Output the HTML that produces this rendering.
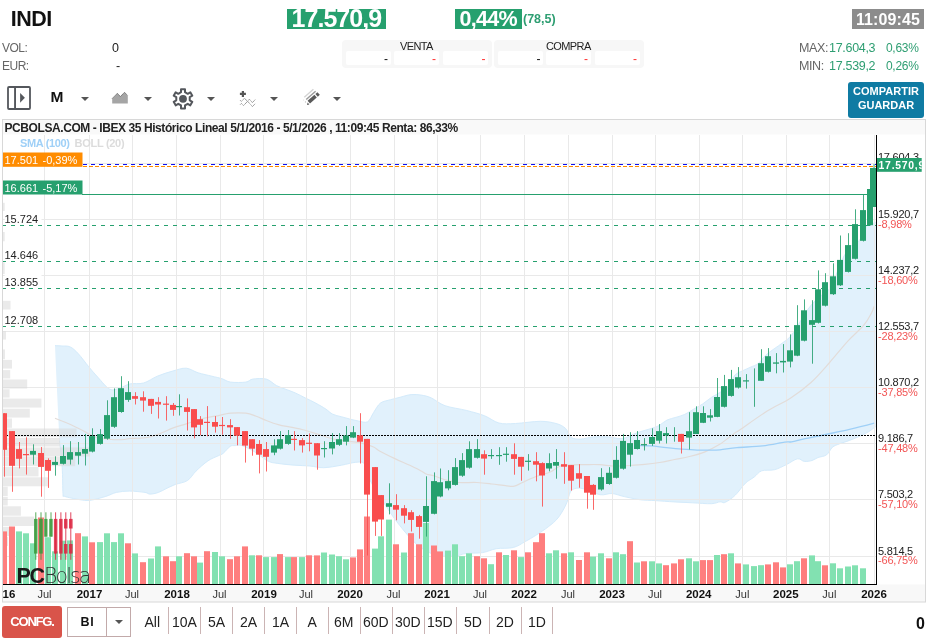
<!DOCTYPE html>
<html><head><meta charset="utf-8">
<style>
*{margin:0;padding:0;box-sizing:border-box}
html,body{width:939px;height:643px;overflow:hidden;background:#fff;font-family:"Liberation Sans",Arial,sans-serif;color:#222}
.a{position:absolute;white-space:nowrap}
svg text{font-family:"Liberation Sans",Arial,sans-serif}
.lbl{font-size:12px;color:#666;letter-spacing:-0.5px}
.gv{color:#2e9e72}
.box{position:absolute;background:#f7f7f7;border-radius:4px}
.cell{position:absolute;background:#fff;border-radius:2px}
.per{position:absolute;top:617px;font-size:14px;color:#222;line-height:11px}
.sep{position:absolute;top:607px;width:1px;height:27px;background:#cbb4b4}
.car{position:absolute;width:0;height:0;border-left:4px solid transparent;border-right:4px solid transparent;border-top:4px solid #555}
</style></head><body>
<div class="a" style="left:10.7px;top:6.5px;font-size:21.5px;font-weight:bold;color:#111;letter-spacing:-0.5px">INDI</div>
<div class="a" style="left:287px;top:9px;width:99px;height:20px;background:#26a06e"></div>
<div class="a" style="left:291.5px;top:4px;font-size:25px;font-weight:bold;color:#fff;letter-spacing:-0.95px">17.570,9</div>
<div class="a" style="left:455px;top:9px;width:67px;height:20px;background:#26a06e"></div>
<div class="a" style="left:459.5px;top:7px;font-size:21.5px;font-weight:bold;color:#fff;letter-spacing:-0.7px">0,44%</div>
<div class="a gv" style="left:523px;top:12px;font-size:12.5px;font-weight:bold">(78,5)</div>
<div class="a" style="left:852px;top:9px;width:72px;height:20px;background:#8c8c8c"></div>
<div class="a" style="left:856px;top:11px;font-size:16px;font-weight:bold;color:#fff;letter-spacing:0.1px">11:09:45</div>

<div class="a lbl" style="left:2px;top:41px">VOL:</div>
<div class="a" style="left:112px;top:41px;font-size:12.5px;color:#222">0</div>
<div class="a lbl" style="left:2px;top:59px">EUR:</div>
<div class="a" style="left:116px;top:59px;font-size:12.5px;color:#222">-</div>

<div class="box" style="left:342px;top:40px;width:150px;height:27.5px"></div>
<div class="a" style="left:400px;top:40px;font-size:11px;color:#222;letter-spacing:-0.6px">VENTA</div>
<div class="cell" style="left:346px;top:51px;width:45px;height:14px"></div>
<div class="cell" style="left:394px;top:51px;width:45px;height:14px"></div>
<div class="cell" style="left:443px;top:51px;width:45px;height:14px"></div>
<div class="a" style="left:384px;top:52px;font-size:12px;color:#111">-</div>
<div class="a" style="left:432px;top:52px;font-size:12px;color:#f33">-</div>
<div class="a" style="left:481.5px;top:52px;font-size:12px;color:#f33">-</div>
<div class="box" style="left:494px;top:40px;width:150px;height:27.5px"></div>
<div class="a" style="left:546px;top:40px;font-size:11px;color:#222;letter-spacing:-0.6px">COMPRA</div>
<div class="cell" style="left:498px;top:51px;width:45px;height:14px"></div>
<div class="cell" style="left:546px;top:51px;width:45px;height:14px"></div>
<div class="cell" style="left:595px;top:51px;width:45px;height:14px"></div>
<div class="a" style="left:536.5px;top:52px;font-size:12px;color:#111">-</div>
<div class="a" style="left:584px;top:52px;font-size:12px;color:#f33">-</div>
<div class="a" style="left:633px;top:52px;font-size:12px;color:#f33">-</div>

<div class="a lbl" style="left:799px;top:41px;font-size:12.5px;letter-spacing:-0.4px">MAX:</div><div class="a gv" style="left:829px;top:41px;font-size:12.5px;letter-spacing:-0.3px">17.604,3</div>
<div class="a gv" style="left:886px;top:41px;font-size:12px;letter-spacing:-0.3px">0,63%</div>
<div class="a lbl" style="left:799px;top:59px;font-size:12.5px;letter-spacing:-0.4px">MIN:</div><div class="a gv" style="left:829px;top:59px;font-size:12.5px;letter-spacing:-0.3px">17.539,2</div>
<div class="a gv" style="left:886px;top:59px;font-size:12px;letter-spacing:-0.3px">0,26%</div>

<div class="a" style="left:848px;top:82px;width:76px;height:35.5px;background:#0f7ba3;border-radius:3px"></div>
<div class="a" style="left:848px;top:85px;width:76px;text-align:center;font-size:11px;font-weight:bold;color:#fff;line-height:13.8px">COMPARTIR<br>GUARDAR</div>

<!-- toolbar -->
<svg class="a" style="left:0;top:80px" width="360" height="36" viewBox="0 80 360 36">
 <rect x="8" y="87" width="22" height="22" rx="1" fill="none" stroke="#54575c" stroke-width="1.8"/>
 <line x1="15.05" y1="87" x2="15.05" y2="109" stroke="#54575c" stroke-width="1.9"/>
 <path d="M20.1,92.9 L24.9,97.8 L20.1,102.7 Z" fill="#54575c"/>
 <path d="M112.2,103.6 L112.2,98.5 L117.4,93.3 L120.4,96.6 L124.5,92.3 L127.8,95.7 L127.8,103.6 Z" fill="#a5a5a5"/>
 <path d="M112.2,98.5 L117.4,93.3 L120.4,96.6 L124.5,92.3 L127.8,95.7" fill="none" stroke="#555" stroke-width="0.9" stroke-dasharray="1,0.6"/>
 <path d="M181.00,92.20 L181.00,89.20 L185.00,89.20 L185.00,92.20 L187.72,93.77 L190.31,92.27 L192.31,95.73 L189.72,97.23 L189.72,100.37 L192.31,101.87 L190.31,105.33 L187.72,103.83 L185.00,105.40 L185.00,108.40 L181.00,108.40 L181.00,105.40 L178.28,103.83 L175.69,105.33 L173.69,101.87 L176.28,100.37 L176.28,97.23 L173.69,95.73 L175.69,92.27 L178.28,93.77 Z" fill="none" stroke="#54575c" stroke-width="2" stroke-linejoin="round"/>
 <circle cx="183" cy="98.8" r="3.9" fill="#54575c"/>
 <path d="M239.9,93.9 h6 M242.9,90.9 v6" stroke="#555" stroke-width="2.2"/>
 <path d="M240.3,100.4 L241.4,101.5 L244.4,98.3 L247.6,101.3 L249.4,99.2 L252.4,102.6 L255.6,99.2" fill="none" stroke="#666" stroke-width="0.9" stroke-dasharray="1,0.7"/>
 <path d="M240.3,104.5 L241.4,103.4 L243.5,105.6 L247.6,101.3 L252.4,106.5 L255.6,103.4" fill="none" stroke="#666" stroke-width="0.9" stroke-dasharray="1,0.7"/>
 <line x1="304.3" y1="97.3" x2="313.4" y2="89.2" stroke="#d4d4d4" stroke-width="1.4"/>
 <line x1="306.2" y1="99.5" x2="315.6" y2="91.2" stroke="#9a9a9a" stroke-width="1.4"/>
 <line x1="308.8" y1="102.2" x2="315.6" y2="96.2" stroke="#5a5a5a" stroke-width="3.6"/>
 <line x1="316.6" y1="95.3" x2="318.6" y2="93.5" stroke="#5a5a5a" stroke-width="3.6"/>
 <path d="M307,105 L307.6,102.6 L309.4,104.4 Z" fill="#5a5a5a"/>
 <circle cx="303.6" cy="100" r="0.6" fill="#ddd"/>
 <circle cx="305.5" cy="101.9" r="0.6" fill="#bbb"/>
</svg>
<div class="a" style="left:50.5px;top:87.5px;font-size:15.5px;font-weight:bold;color:#111">M</div>
<div class="car" style="left:80.5px;top:97px"></div>
<div class="car" style="left:143.5px;top:97px"></div>
<div class="car" style="left:207px;top:97px"></div>
<div class="car" style="left:270px;top:97px"></div>
<div class="car" style="left:333px;top:97px"></div>

<svg class="a" style="left:0;top:0" width="939" height="643" viewBox="0 0 939 643">
<defs><clipPath id="clipc"><rect x="3" y="135" width="873.5" height="449"/></clipPath></defs>
<rect x="2.5" y="119.5" width="923" height="15" fill="#f9f9f9"/>
<rect x="2.5" y="584.5" width="923" height="17.5" fill="#f8f8f8"/>
<path d="M55.0,345.6 C56.2,345.7 59.5,345.8 62.0,346.0 C64.5,346.2 67.4,345.6 70.1,346.9 C72.8,348.1 75.0,350.2 78.1,353.5 C81.2,356.8 85.4,362.7 88.7,366.7 C92.0,370.7 94.4,373.6 97.9,377.3 C101.4,381.1 106.1,387.4 109.8,389.2 C113.5,391.0 116.6,388.9 120.0,388.0 C123.4,387.1 126.1,384.7 130.0,383.9 C133.9,383.1 139.0,384.3 143.6,383.0 C148.2,381.7 152.5,378.2 157.3,376.2 C162.1,374.2 167.8,372.4 172.6,371.1 C177.4,369.8 181.9,367.9 186.2,368.2 C190.4,368.5 193.8,371.5 198.1,372.8 C202.4,374.1 207.8,375.2 211.8,376.2 C215.8,377.2 218.9,377.7 222.0,378.7 C225.1,379.7 226.5,381.5 230.5,382.1 C234.5,382.7 242.1,382.6 245.8,382.1 C249.5,381.6 249.3,379.6 252.7,379.1 C256.1,378.6 262.3,378.0 266.3,379.1 C270.3,380.2 273.4,384.0 276.5,385.6 C279.6,387.2 281.9,387.8 285.0,389.0 C288.1,390.2 291.8,391.4 295.2,392.9 C298.6,394.4 302.0,396.3 305.4,398.0 C308.8,399.7 312.3,401.2 315.7,403.1 C319.1,405.0 323.1,407.2 325.9,409.1 C328.7,411.0 330.1,412.9 332.7,414.2 C335.2,415.5 338.4,415.9 341.2,416.7 C344.0,417.5 346.8,418.3 349.7,419.0 C352.6,419.7 355.3,420.5 358.3,421.0 C361.3,421.5 365.1,423.2 367.6,421.8 C370.2,420.4 371.5,415.6 373.6,412.5 C375.7,409.4 377.6,405.2 380.4,403.1 C383.2,401.0 387.2,400.7 390.6,399.7 C394.0,398.7 397.4,398.0 400.8,397.1 C404.2,396.2 407.7,394.9 411.1,394.6 C414.5,394.3 417.9,394.5 421.3,395.1 C424.7,395.7 427.6,396.2 431.5,398.0 C435.4,399.8 439.1,403.6 445.0,405.7 C450.9,407.8 460.1,408.8 466.7,410.5 C473.3,412.2 479.2,413.7 484.6,415.8 C490.0,417.9 493.8,421.7 498.9,423.0 C504.0,424.3 508.6,423.8 515.5,423.5 C522.4,423.2 533.6,421.3 540.4,421.3 C547.1,421.3 551.9,422.4 556.0,423.5 C560.1,424.6 562.7,425.9 565.3,428.2 C567.9,430.5 568.9,435.7 571.5,437.5 C574.1,439.3 577.2,439.2 580.8,439.1 C584.4,439.0 588.6,437.3 593.3,436.9 C598.0,436.5 603.9,436.6 608.8,436.9 C613.6,437.2 617.6,439.3 622.4,438.6 C627.1,437.9 632.3,434.4 637.3,432.7 C642.3,431.0 648.5,429.4 652.2,428.2 C655.9,426.9 657.1,426.6 659.6,425.2 C662.1,423.8 664.4,421.3 667.1,420.0 C669.8,418.7 672.9,418.3 675.8,417.4 C678.7,416.5 681.7,415.8 684.7,414.4 C687.7,413.0 690.7,410.9 693.7,409.2 C696.7,407.5 699.6,406.0 702.6,404.0 C705.6,402.0 708.6,399.3 711.6,397.3 C714.6,395.3 717.5,394.1 720.5,392.1 C723.5,390.1 727.1,388.2 729.5,385.3 C731.9,382.4 732.8,377.4 735.0,375.0 C737.2,372.6 740.2,372.0 742.8,370.7 C745.4,369.4 747.9,368.4 750.5,367.2 C753.1,366.0 755.7,365.4 758.3,363.4 C760.9,361.4 763.4,357.4 766.0,355.0 C768.6,352.6 771.0,351.1 773.9,349.0 C776.8,346.9 780.4,344.6 783.2,342.4 C786.1,340.2 788.2,339.2 791.0,335.8 C793.8,332.4 797.2,326.4 800.0,322.0 C802.8,317.6 804.6,313.6 807.6,309.6 C810.6,305.6 814.4,301.4 818.0,298.0 C821.6,294.6 826.5,292.8 829.5,289.0 C832.5,285.2 833.7,280.3 836.0,275.0 C838.3,269.7 840.8,262.0 843.5,257.0 C846.2,252.0 849.3,247.8 852.0,245.0 C854.7,242.2 857.4,243.2 859.8,240.0 C862.2,236.8 864.2,228.8 866.6,226.0 C869.0,223.2 872.7,223.7 874.3,223.0 C875.9,222.3 875.7,222.2 876.0,222.0 L876.0,426.5 C875.7,426.7 875.5,426.8 874.2,427.7 C872.9,428.6 870.6,430.5 868.2,431.9 C865.8,433.3 862.8,434.8 859.7,436.2 C856.6,437.6 852.9,439.1 849.5,440.4 C846.1,441.7 842.1,442.8 839.3,443.9 C836.4,445.0 834.5,445.5 832.4,447.3 C830.3,449.1 828.9,453.2 826.5,454.9 C824.1,456.6 820.4,456.6 818.0,457.5 C815.6,458.4 814.3,459.9 812.0,460.5 C809.7,461.1 806.7,461.7 804.3,461.4 C801.9,461.1 800.5,458.3 797.5,458.8 C794.5,459.3 790.2,462.8 786.4,464.6 C782.6,466.4 778.6,468.7 774.5,469.7 C770.4,470.7 765.1,469.6 761.7,470.8 C758.3,472.0 756.8,475.1 754.1,477.1 C751.4,479.1 748.5,480.3 745.6,483.0 C742.8,485.7 739.4,490.7 737.0,493.3 C734.6,495.9 733.2,497.1 731.1,498.7 C729.0,500.2 726.1,502.1 724.3,502.6 C722.4,503.1 722.1,501.6 720.0,501.8 C717.9,502.0 715.9,503.5 711.4,503.7 C706.9,503.9 698.9,503.1 692.7,502.8 C686.5,502.5 680.3,502.3 674.1,501.9 C667.9,501.5 661.1,501.0 655.4,500.6 C649.7,500.2 645.1,500.4 639.9,499.7 C634.7,499.0 629.0,497.6 624.3,496.6 C619.6,495.6 615.9,493.8 611.9,493.5 C607.9,493.2 604.8,495.5 600.0,494.7 C595.2,493.9 587.3,489.7 583.1,488.7 C578.9,487.7 576.7,488.1 574.6,488.7 C572.5,489.3 571.6,489.9 570.3,492.2 C569.0,494.5 568.2,499.3 566.9,502.4 C565.6,505.5 564.5,507.9 562.7,510.9 C560.9,513.9 558.8,517.3 555.9,520.3 C553.0,523.3 549.0,526.2 545.6,528.8 C542.2,531.3 538.8,533.5 535.4,535.6 C532.0,537.7 528.9,539.6 525.2,541.6 C521.5,543.6 518.1,546.3 513.3,547.5 C508.5,548.7 501.3,547.9 496.2,548.7 C491.1,549.6 487.7,551.8 482.6,552.6 C477.5,553.4 470.0,552.9 465.6,553.5 C461.2,554.1 460.0,555.6 456.0,556.0 C452.0,556.4 446.5,556.7 441.7,556.0 C436.9,555.3 432.2,554.2 427.4,551.7 C422.6,549.2 418.5,546.4 413.1,541.0 C407.7,535.6 400.6,526.8 395.2,519.6 C389.8,512.5 385.1,504.7 380.9,498.1 C376.7,491.5 372.8,485.9 370.1,480.2 C367.4,474.5 367.2,467.1 364.8,464.1 C362.4,461.1 359.7,462.1 355.8,462.3 C351.9,462.5 346.9,464.3 341.5,465.2 C336.1,466.1 328.9,467.6 323.6,467.7 C318.4,467.8 314.8,466.4 310.0,466.0 C305.2,465.6 300.2,465.6 294.8,465.2 C289.4,464.8 282.3,464.1 277.8,463.4 C273.3,462.7 271.4,462.8 267.6,460.9 C263.8,459.0 259.3,454.6 255.0,452.0 C250.7,449.4 245.3,446.7 242.0,445.6 C238.7,444.5 237.2,445.5 235.2,445.6 C233.2,445.7 232.1,445.1 230.1,446.4 C228.1,447.7 225.3,451.6 223.3,453.2 C221.3,454.8 220.8,454.5 218.2,455.8 C215.6,457.1 211.6,458.3 207.9,460.9 C204.2,463.4 199.4,467.8 196.0,471.1 C192.6,474.4 190.9,478.3 187.5,480.5 C184.1,482.7 179.0,483.1 175.6,484.4 C172.2,485.7 169.8,486.9 167.0,488.2 C164.2,489.5 161.3,491.4 158.5,492.4 C155.7,493.4 152.2,494.1 150.0,494.1 C147.8,494.1 148.4,492.9 145.0,492.4 C141.6,491.9 134.5,491.1 129.7,491.1 C124.9,491.1 120.4,491.5 116.4,492.4 C112.4,493.3 110.2,495.1 105.8,496.4 C101.4,497.7 94.4,499.8 90.0,500.3 C85.6,500.8 83.6,500.2 79.4,499.6 C75.2,499.0 67.5,497.4 64.8,496.4 C62.1,495.4 63.4,498.5 63.0,493.7 C62.6,488.9 62.8,476.1 62.2,467.3 C61.6,458.5 60.5,454.0 59.6,440.8 C58.7,427.6 57.7,403.8 56.9,387.9 C56.1,372.0 55.3,352.7 55.0,345.6 Z" fill="#e1f1fc"/>
<path d="M55.0,345.6 C56.2,345.7 59.5,345.8 62.0,346.0 C64.5,346.2 67.4,345.6 70.1,346.9 C72.8,348.1 75.0,350.2 78.1,353.5 C81.2,356.8 85.4,362.7 88.7,366.7 C92.0,370.7 94.4,373.6 97.9,377.3 C101.4,381.1 106.1,387.4 109.8,389.2 C113.5,391.0 116.6,388.9 120.0,388.0 C123.4,387.1 126.1,384.7 130.0,383.9 C133.9,383.1 139.0,384.3 143.6,383.0 C148.2,381.7 152.5,378.2 157.3,376.2 C162.1,374.2 167.8,372.4 172.6,371.1 C177.4,369.8 181.9,367.9 186.2,368.2 C190.4,368.5 193.8,371.5 198.1,372.8 C202.4,374.1 207.8,375.2 211.8,376.2 C215.8,377.2 218.9,377.7 222.0,378.7 C225.1,379.7 226.5,381.5 230.5,382.1 C234.5,382.7 242.1,382.6 245.8,382.1 C249.5,381.6 249.3,379.6 252.7,379.1 C256.1,378.6 262.3,378.0 266.3,379.1 C270.3,380.2 273.4,384.0 276.5,385.6 C279.6,387.2 281.9,387.8 285.0,389.0 C288.1,390.2 291.8,391.4 295.2,392.9 C298.6,394.4 302.0,396.3 305.4,398.0 C308.8,399.7 312.3,401.2 315.7,403.1 C319.1,405.0 323.1,407.2 325.9,409.1 C328.7,411.0 330.1,412.9 332.7,414.2 C335.2,415.5 338.4,415.9 341.2,416.7 C344.0,417.5 346.8,418.3 349.7,419.0 C352.6,419.7 355.3,420.5 358.3,421.0 C361.3,421.5 365.1,423.2 367.6,421.8 C370.2,420.4 371.5,415.6 373.6,412.5 C375.7,409.4 377.6,405.2 380.4,403.1 C383.2,401.0 387.2,400.7 390.6,399.7 C394.0,398.7 397.4,398.0 400.8,397.1 C404.2,396.2 407.7,394.9 411.1,394.6 C414.5,394.3 417.9,394.5 421.3,395.1 C424.7,395.7 427.6,396.2 431.5,398.0 C435.4,399.8 439.1,403.6 445.0,405.7 C450.9,407.8 460.1,408.8 466.7,410.5 C473.3,412.2 479.2,413.7 484.6,415.8 C490.0,417.9 493.8,421.7 498.9,423.0 C504.0,424.3 508.6,423.8 515.5,423.5 C522.4,423.2 533.6,421.3 540.4,421.3 C547.1,421.3 551.9,422.4 556.0,423.5 C560.1,424.6 562.7,425.9 565.3,428.2 C567.9,430.5 568.9,435.7 571.5,437.5 C574.1,439.3 577.2,439.2 580.8,439.1 C584.4,439.0 588.6,437.3 593.3,436.9 C598.0,436.5 603.9,436.6 608.8,436.9 C613.6,437.2 617.6,439.3 622.4,438.6 C627.1,437.9 632.3,434.4 637.3,432.7 C642.3,431.0 648.5,429.4 652.2,428.2 C655.9,426.9 657.1,426.6 659.6,425.2 C662.1,423.8 664.4,421.3 667.1,420.0 C669.8,418.7 672.9,418.3 675.8,417.4 C678.7,416.5 681.7,415.8 684.7,414.4 C687.7,413.0 690.7,410.9 693.7,409.2 C696.7,407.5 699.6,406.0 702.6,404.0 C705.6,402.0 708.6,399.3 711.6,397.3 C714.6,395.3 717.5,394.1 720.5,392.1 C723.5,390.1 727.1,388.2 729.5,385.3 C731.9,382.4 732.8,377.4 735.0,375.0 C737.2,372.6 740.2,372.0 742.8,370.7 C745.4,369.4 747.9,368.4 750.5,367.2 C753.1,366.0 755.7,365.4 758.3,363.4 C760.9,361.4 763.4,357.4 766.0,355.0 C768.6,352.6 771.0,351.1 773.9,349.0 C776.8,346.9 780.4,344.6 783.2,342.4 C786.1,340.2 788.2,339.2 791.0,335.8 C793.8,332.4 797.2,326.4 800.0,322.0 C802.8,317.6 804.6,313.6 807.6,309.6 C810.6,305.6 814.4,301.4 818.0,298.0 C821.6,294.6 826.5,292.8 829.5,289.0 C832.5,285.2 833.7,280.3 836.0,275.0 C838.3,269.7 840.8,262.0 843.5,257.0 C846.2,252.0 849.3,247.8 852.0,245.0 C854.7,242.2 857.4,243.2 859.8,240.0 C862.2,236.8 864.2,228.8 866.6,226.0 C869.0,223.2 872.7,223.7 874.3,223.0 C875.9,222.3 875.7,222.2 876.0,222.0" fill="none" stroke="#d4ebfb" stroke-width="1"/>
<path d="M59.6,440.8 C60.0,445.2 61.6,458.5 62.2,467.3 C62.8,476.1 62.6,488.9 63.0,493.7 C63.4,498.5 62.1,495.4 64.8,496.4 C67.5,497.4 75.2,499.0 79.4,499.6 C83.6,500.2 85.6,500.8 90.0,500.3 C94.4,499.8 101.4,497.7 105.8,496.4 C110.2,495.1 112.4,493.3 116.4,492.4 C120.4,491.5 124.9,491.1 129.7,491.1 C134.5,491.1 141.6,491.9 145.0,492.4 C148.4,492.9 147.8,494.1 150.0,494.1 C152.2,494.1 155.7,493.4 158.5,492.4 C161.3,491.4 164.2,489.5 167.0,488.2 C169.8,486.9 172.2,485.7 175.6,484.4 C179.0,483.1 184.1,482.7 187.5,480.5 C190.9,478.3 192.6,474.4 196.0,471.1 C199.4,467.8 204.2,463.4 207.9,460.9 C211.6,458.3 215.6,457.1 218.2,455.8 C220.8,454.5 221.3,454.8 223.3,453.2 C225.3,451.6 228.1,447.7 230.1,446.4 C232.1,445.1 233.2,445.7 235.2,445.6 C237.2,445.5 238.7,444.5 242.0,445.6 C245.3,446.7 250.7,449.4 255.0,452.0 C259.3,454.6 263.8,459.0 267.6,460.9 C271.4,462.8 273.3,462.7 277.8,463.4 C282.3,464.1 289.4,464.8 294.8,465.2 C300.2,465.6 305.2,465.6 310.0,466.0 C314.8,466.4 318.4,467.8 323.6,467.7 C328.9,467.6 336.1,466.1 341.5,465.2 C346.9,464.3 351.9,462.5 355.8,462.3 C359.7,462.1 362.4,461.1 364.8,464.1 C367.2,467.1 367.4,474.5 370.1,480.2 C372.8,485.9 376.7,491.5 380.9,498.1 C385.1,504.7 389.8,512.5 395.2,519.6 C400.6,526.8 407.7,535.6 413.1,541.0 C418.5,546.4 422.6,549.2 427.4,551.7 C432.2,554.2 436.9,555.3 441.7,556.0 C446.5,556.7 452.0,556.4 456.0,556.0 C460.0,555.6 461.2,554.1 465.6,553.5 C470.0,552.9 477.5,553.4 482.6,552.6 C487.7,551.8 491.1,549.6 496.2,548.7 C501.3,547.9 508.5,548.7 513.3,547.5 C518.1,546.3 521.5,543.6 525.2,541.6 C528.9,539.6 532.0,537.7 535.4,535.6 C538.8,533.5 542.2,531.3 545.6,528.8 C549.0,526.2 553.0,523.3 555.9,520.3 C558.8,517.3 560.9,513.9 562.7,510.9 C564.5,507.9 565.6,505.5 566.9,502.4 C568.2,499.3 569.0,494.5 570.3,492.2 C571.6,489.9 572.5,489.3 574.6,488.7 C576.7,488.1 578.9,487.7 583.1,488.7 C587.3,489.7 595.2,493.9 600.0,494.7 C604.8,495.5 607.9,493.2 611.9,493.5 C615.9,493.8 619.6,495.6 624.3,496.6 C629.0,497.6 634.7,499.0 639.9,499.7 C645.1,500.4 649.7,500.2 655.4,500.6 C661.1,501.0 667.9,501.5 674.1,501.9 C680.3,502.3 686.5,502.5 692.7,502.8 C698.9,503.1 706.9,503.9 711.4,503.7 C715.9,503.5 717.9,502.0 720.0,501.8 C722.1,501.6 722.4,503.1 724.3,502.6 C726.1,502.1 729.0,500.2 731.1,498.7 C733.2,497.1 734.6,495.9 737.0,493.3 C739.4,490.7 742.8,485.7 745.6,483.0 C748.5,480.3 751.4,479.1 754.1,477.1 C756.8,475.1 758.3,472.0 761.7,470.8 C765.1,469.6 770.4,470.7 774.5,469.7 C778.6,468.7 782.6,466.4 786.4,464.6 C790.2,462.8 794.5,459.3 797.5,458.8 C800.5,458.3 801.9,461.1 804.3,461.4 C806.7,461.7 809.7,461.1 812.0,460.5 C814.3,459.9 815.6,458.4 818.0,457.5 C820.4,456.6 824.1,456.6 826.5,454.9 C828.9,453.2 830.3,449.1 832.4,447.3 C834.5,445.5 836.4,445.0 839.3,443.9 C842.1,442.8 846.1,441.7 849.5,440.4 C852.9,439.1 856.6,437.6 859.7,436.2 C862.8,434.8 865.8,433.3 868.2,431.9 C870.6,430.5 872.9,428.6 874.2,427.7 C875.5,426.8 875.7,426.7 876.0,426.5" fill="none" stroke="#d4ebfb" stroke-width="1"/>
<line x1="44.5" y1="135" x2="44.5" y2="584" stroke="#e9e9e9" stroke-width="1"/>
<line x1="89.5" y1="135" x2="89.5" y2="584" stroke="#e9e9e9" stroke-width="1"/>
<line x1="132.5" y1="135" x2="132.5" y2="584" stroke="#e9e9e9" stroke-width="1"/>
<line x1="176.5" y1="135" x2="176.5" y2="584" stroke="#e9e9e9" stroke-width="1"/>
<line x1="220.5" y1="135" x2="220.5" y2="584" stroke="#e9e9e9" stroke-width="1"/>
<line x1="263.5" y1="135" x2="263.5" y2="584" stroke="#e9e9e9" stroke-width="1"/>
<line x1="306.5" y1="135" x2="306.5" y2="584" stroke="#e9e9e9" stroke-width="1"/>
<line x1="350.5" y1="135" x2="350.5" y2="584" stroke="#e9e9e9" stroke-width="1"/>
<line x1="394.5" y1="135" x2="394.5" y2="584" stroke="#e9e9e9" stroke-width="1"/>
<line x1="437.5" y1="135" x2="437.5" y2="584" stroke="#e9e9e9" stroke-width="1"/>
<line x1="480.5" y1="135" x2="480.5" y2="584" stroke="#e9e9e9" stroke-width="1"/>
<line x1="524.5" y1="135" x2="524.5" y2="584" stroke="#e9e9e9" stroke-width="1"/>
<line x1="568.5" y1="135" x2="568.5" y2="584" stroke="#e9e9e9" stroke-width="1"/>
<line x1="612.5" y1="135" x2="612.5" y2="584" stroke="#e9e9e9" stroke-width="1"/>
<line x1="655.5" y1="135" x2="655.5" y2="584" stroke="#e9e9e9" stroke-width="1"/>
<line x1="699.5" y1="135" x2="699.5" y2="584" stroke="#e9e9e9" stroke-width="1"/>
<line x1="742.5" y1="135" x2="742.5" y2="584" stroke="#e9e9e9" stroke-width="1"/>
<line x1="786.5" y1="135" x2="786.5" y2="584" stroke="#e9e9e9" stroke-width="1"/>
<line x1="829.5" y1="135" x2="829.5" y2="584" stroke="#e9e9e9" stroke-width="1"/>
<line x1="874.5" y1="135" x2="874.5" y2="584" stroke="#e9e9e9" stroke-width="1"/>
<line x1="3" y1="163.5" x2="876" y2="163.5" stroke="#e9e9e9" stroke-width="1"/>
<line x1="3" y1="219.5" x2="876" y2="219.5" stroke="#e9e9e9" stroke-width="1"/>
<line x1="3" y1="275.5" x2="876" y2="275.5" stroke="#e9e9e9" stroke-width="1"/>
<line x1="3" y1="331.5" x2="876" y2="331.5" stroke="#e9e9e9" stroke-width="1"/>
<line x1="3" y1="387.5" x2="876" y2="387.5" stroke="#e9e9e9" stroke-width="1"/>
<line x1="3" y1="443.5" x2="876" y2="443.5" stroke="#e9e9e9" stroke-width="1"/>
<line x1="3" y1="499.5" x2="876" y2="499.5" stroke="#e9e9e9" stroke-width="1"/>
<line x1="3" y1="556.5" x2="876" y2="556.5" stroke="#e9e9e9" stroke-width="1"/>
<rect x="3" y="202.8" width="1.7" height="8.2" fill="#d9d9d9" fill-opacity="0.55"/>
<rect x="3" y="232.0" width="1.7" height="9.3" fill="#d9d9d9" fill-opacity="0.55"/>
<rect x="3" y="262.3" width="1.7" height="11.7" fill="#d9d9d9" fill-opacity="0.55"/>
<rect x="3" y="300.8" width="7.5" height="8.7" fill="#d9d9d9" fill-opacity="0.55"/>
<rect x="3" y="331.3" width="3.0" height="8.3" fill="#d9d9d9" fill-opacity="0.55"/>
<rect x="3" y="349.4" width="2.0" height="9.8" fill="#d9d9d9" fill-opacity="0.55"/>
<rect x="3" y="359.9" width="9.0" height="8.7" fill="#d9d9d9" fill-opacity="0.55"/>
<rect x="3" y="370.1" width="7.2" height="8.3" fill="#d9d9d9" fill-opacity="0.55"/>
<rect x="3" y="379.5" width="24.2" height="9.1" fill="#d9d9d9" fill-opacity="0.55"/>
<rect x="3" y="389.3" width="6.6" height="8.3" fill="#d9d9d9" fill-opacity="0.55"/>
<rect x="3" y="398.6" width="38.4" height="9.0" fill="#d9d9d9" fill-opacity="0.55"/>
<rect x="3" y="408.7" width="26.8" height="8.9" fill="#d9d9d9" fill-opacity="0.55"/>
<rect x="3" y="418.5" width="9.0" height="9.3" fill="#d9d9d9" fill-opacity="0.55"/>
<rect x="3" y="428.5" width="73.5" height="8.7" fill="#d9d9d9" fill-opacity="0.55"/>
<rect x="3" y="438.0" width="57.0" height="8.5" fill="#d9d9d9" fill-opacity="0.55"/>
<rect x="3" y="447.4" width="86.7" height="9.1" fill="#d9d9d9" fill-opacity="0.55"/>
<rect x="3" y="456.8" width="72.2" height="9.4" fill="#d9d9d9" fill-opacity="0.55"/>
<rect x="3" y="467.0" width="35.5" height="9.4" fill="#d9d9d9" fill-opacity="0.55"/>
<rect x="3" y="477.3" width="44.9" height="9.0" fill="#d9d9d9" fill-opacity="0.55"/>
<rect x="3" y="486.7" width="4.7" height="9.4" fill="#d9d9d9" fill-opacity="0.55"/>
<rect x="3" y="496.9" width="4.7" height="8.6" fill="#d9d9d9" fill-opacity="0.55"/>
<rect x="3" y="506.3" width="17.9" height="9.4" fill="#d9d9d9" fill-opacity="0.55"/>
<rect x="3" y="516.6" width="31.2" height="9.4" fill="#d9d9d9" fill-opacity="0.55"/>
<rect x="3" y="526.8" width="9.0" height="9.2" fill="#d9d9d9" fill-opacity="0.55"/>
<rect x="3" y="536.8" width="5.0" height="9.2" fill="#d9d9d9" fill-opacity="0.55"/>
<rect x="3" y="546.8" width="3.0" height="9.2" fill="#d9d9d9" fill-opacity="0.55"/>
<rect x="3" y="556.8" width="2.0" height="9.2" fill="#d9d9d9" fill-opacity="0.55"/>
<rect x="3" y="566.8" width="1.0" height="9.2" fill="#d9d9d9" fill-opacity="0.55"/>
<path d="M55.0,418.3 C57.8,419.4 66.5,422.8 71.5,425.0 C76.5,427.2 80.7,429.6 84.7,431.6 C88.7,433.6 90.9,435.7 95.3,437.0 C99.7,438.3 106.2,439.1 111.1,439.5 C115.9,439.9 121.2,439.7 124.4,439.5 C127.6,439.3 126.2,438.8 130.0,438.5 C133.8,438.2 141.9,438.4 147.0,437.5 C152.1,436.6 156.4,434.9 160.7,433.3 C165.0,431.7 168.3,429.7 172.6,428.1 C176.8,426.5 181.4,425.4 186.2,423.9 C191.0,422.3 196.8,420.1 201.6,418.8 C206.4,417.5 210.4,417.1 215.2,416.2 C220.0,415.3 225.4,413.7 230.5,413.2 C235.6,412.7 241.5,412.7 245.8,413.2 C250.1,413.7 252.7,415.0 256.1,416.2 C259.5,417.4 262.6,419.1 266.3,420.5 C270.0,421.9 275.1,423.8 278.2,424.7 C281.3,425.6 281.0,425.3 285.0,426.1 C289.0,426.9 296.3,428.1 302.0,429.5 C307.7,430.9 313.4,432.9 319.1,434.6 C324.8,436.3 331.0,438.6 336.1,439.7 C341.2,440.8 345.4,440.8 349.7,441.4 C354.0,442.0 357.7,442.2 361.7,443.1 C365.7,444.0 370.6,445.6 373.6,447.0 C376.7,448.4 376.4,449.3 380.0,451.2 C383.6,453.1 389.9,456.2 394.9,458.6 C399.9,461.0 405.3,463.2 409.8,465.3 C414.3,467.4 419.0,469.9 421.7,471.3 C424.4,472.8 424.2,473.2 426.2,474.0 C428.2,474.8 430.7,474.9 433.7,475.8 C436.7,476.7 440.1,478.4 444.1,479.5 C448.1,480.6 452.0,482.0 457.5,482.5 C463.0,483.0 471.2,482.2 476.9,482.5 C482.6,482.8 486.8,483.4 491.8,484.0 C496.8,484.6 503.0,485.5 506.7,485.9 C510.4,486.3 511.7,486.7 514.2,486.2 C516.7,485.7 518.3,484.4 521.8,482.8 C525.3,481.2 530.6,478.7 535.4,476.8 C540.2,474.9 546.3,473.6 550.8,471.7 C555.3,469.8 556.2,466.7 562.2,465.5 C568.2,464.3 580.7,464.7 587.0,464.6 C593.3,464.5 595.4,464.4 600.0,464.7 C604.6,465.0 609.9,466.1 614.9,466.2 C619.9,466.3 624.8,465.8 629.8,465.5 C634.8,465.2 639.7,464.9 644.7,464.4 C649.7,463.9 654.6,463.3 659.6,462.5 C664.6,461.7 669.5,460.5 674.5,459.5 C679.5,458.5 684.5,457.7 689.5,456.5 C694.5,455.3 699.4,454.1 704.4,452.1 C709.4,450.1 714.3,447.7 719.3,444.6 C724.3,441.5 730.8,435.9 734.2,433.4 C737.7,430.9 734.4,433.5 740.0,429.7 C745.6,425.9 759.3,416.0 767.6,410.8 C775.9,405.6 782.8,403.2 790.0,398.5 C797.2,393.8 804.4,388.5 811.0,382.5 C817.6,376.5 823.4,369.5 829.6,362.5 C835.8,355.5 842.6,346.9 848.3,340.7 C854.0,334.5 859.9,329.9 863.8,325.2 C867.7,320.5 869.9,315.8 871.6,312.7 C873.3,309.6 873.6,307.5 874.0,306.5" fill="none" stroke="#e2dcd9" stroke-width="1.2"/>
<path d="M637.1,445.4 C639.4,445.5 646.2,445.5 651.1,445.9 C656.0,446.3 661.4,447.1 666.5,447.6 C671.6,448.2 676.7,448.8 681.8,449.2 C686.9,449.6 692.6,450.0 697.1,450.1 C701.6,450.2 704.8,450.2 708.6,450.1 C712.4,450.1 715.3,450.2 720.0,449.8 C724.7,449.4 729.9,448.2 737.0,447.6 C744.1,447.0 754.6,446.8 762.6,445.9 C770.6,445.0 779.9,442.8 784.7,442.1 C789.5,441.4 788.2,442.4 791.6,441.8 C795.0,441.2 799.5,439.9 805.2,438.7 C810.9,437.5 818.2,436.1 825.6,434.5 C833.0,432.9 841.4,431.3 849.5,429.4 C857.6,427.5 870.1,424.2 874.2,423.1" fill="none" stroke="#9fd0f7" stroke-width="1.3"/>
<g clip-path="url(#clipc)">
<rect x="1" y="531.4" width="6" height="52.6" fill="#fe7e7e"/>
<rect x="9" y="526.5" width="6" height="57.5" fill="#fe7e7e"/>
<rect x="16" y="531.4" width="6" height="52.6" fill="#82e1b1"/>
<rect x="23" y="533.3" width="6" height="50.7" fill="#82e1b1"/>
<rect x="30" y="543.3" width="6" height="40.7" fill="#82e1b1"/>
<rect x="38" y="517.5" width="6" height="66.5" fill="#fe7e7e"/>
<rect x="45" y="537.2" width="6" height="46.8" fill="#82e1b1"/>
<rect x="52" y="551.3" width="6" height="32.7" fill="#82e1b1"/>
<rect x="60" y="540.7" width="6" height="43.3" fill="#82e1b1"/>
<rect x="67" y="540.4" width="6" height="43.6" fill="#82e1b1"/>
<rect x="75" y="533.2" width="6" height="50.8" fill="#fe7e7e"/>
<rect x="82" y="536.4" width="6" height="47.6" fill="#82e1b1"/>
<rect x="89" y="542.3" width="6" height="41.7" fill="#fe7e7e"/>
<rect x="97" y="542.1" width="6" height="41.9" fill="#82e1b1"/>
<rect x="104" y="533.3" width="6" height="50.7" fill="#82e1b1"/>
<rect x="111" y="542.1" width="6" height="41.9" fill="#82e1b1"/>
<rect x="118" y="533.3" width="6" height="50.7" fill="#82e1b1"/>
<rect x="125" y="543.3" width="6" height="40.7" fill="#fe7e7e"/>
<rect x="132" y="553.4" width="6" height="30.6" fill="#82e1b1"/>
<rect x="140" y="562.2" width="6" height="21.8" fill="#fe7e7e"/>
<rect x="148" y="558.5" width="6" height="25.5" fill="#82e1b1"/>
<rect x="155" y="546.4" width="6" height="37.6" fill="#82e1b1"/>
<rect x="163" y="556.3" width="6" height="27.7" fill="#fe7e7e"/>
<rect x="170" y="561.2" width="6" height="22.8" fill="#fe7e7e"/>
<rect x="176" y="556.3" width="6" height="27.7" fill="#82e1b1"/>
<rect x="184" y="553.2" width="6" height="30.8" fill="#fe7e7e"/>
<rect x="191" y="556.3" width="6" height="27.7" fill="#fe7e7e"/>
<rect x="197" y="562.6" width="6" height="21.4" fill="#82e1b1"/>
<rect x="204" y="551.2" width="6" height="32.8" fill="#fe7e7e"/>
<rect x="212" y="552.0" width="6" height="32.0" fill="#82e1b1"/>
<rect x="219" y="556.3" width="6" height="27.7" fill="#82e1b1"/>
<rect x="227" y="559.2" width="6" height="24.8" fill="#fe7e7e"/>
<rect x="234" y="556.3" width="6" height="27.7" fill="#fe7e7e"/>
<rect x="242" y="546.4" width="6" height="37.6" fill="#fe7e7e"/>
<rect x="249" y="555.3" width="6" height="28.7" fill="#82e1b1"/>
<rect x="256" y="555.3" width="6" height="28.7" fill="#fe7e7e"/>
<rect x="263" y="557.1" width="6" height="26.9" fill="#82e1b1"/>
<rect x="271" y="557.1" width="6" height="26.9" fill="#82e1b1"/>
<rect x="277" y="554.1" width="6" height="29.9" fill="#fe7e7e"/>
<rect x="285" y="557.1" width="6" height="26.9" fill="#82e1b1"/>
<rect x="291" y="557.1" width="6" height="26.9" fill="#fe7e7e"/>
<rect x="299" y="557.1" width="6" height="26.9" fill="#82e1b1"/>
<rect x="306" y="555.3" width="6" height="28.7" fill="#fe7e7e"/>
<rect x="314" y="555.4" width="6" height="28.6" fill="#fe7e7e"/>
<rect x="321" y="552.5" width="6" height="31.5" fill="#82e1b1"/>
<rect x="329" y="554.5" width="6" height="29.5" fill="#82e1b1"/>
<rect x="336" y="556.2" width="6" height="27.8" fill="#82e1b1"/>
<rect x="343" y="559.3" width="6" height="24.7" fill="#82e1b1"/>
<rect x="350" y="557.4" width="6" height="26.6" fill="#fe7e7e"/>
<rect x="357" y="549.4" width="6" height="34.6" fill="#fe7e7e"/>
<rect x="364" y="516.5" width="6" height="67.5" fill="#fe7e7e"/>
<rect x="372" y="548.6" width="6" height="35.4" fill="#82e1b1"/>
<rect x="378" y="536.3" width="6" height="47.7" fill="#82e1b1"/>
<rect x="386" y="519.6" width="6" height="64.4" fill="#82e1b1"/>
<rect x="393" y="544.3" width="6" height="39.7" fill="#fe7e7e"/>
<rect x="401" y="552.5" width="6" height="31.5" fill="#82e1b1"/>
<rect x="408" y="533.2" width="6" height="50.8" fill="#fe7e7e"/>
<rect x="416" y="544.3" width="6" height="39.7" fill="#fe7e7e"/>
<rect x="423" y="523.0" width="6" height="61.0" fill="#82e1b1"/>
<rect x="431" y="545.5" width="6" height="38.5" fill="#fe7e7e"/>
<rect x="437" y="551.4" width="6" height="32.6" fill="#fe7e7e"/>
<rect x="445" y="550.6" width="6" height="33.4" fill="#82e1b1"/>
<rect x="452" y="544.3" width="6" height="39.7" fill="#82e1b1"/>
<rect x="459" y="556.2" width="6" height="27.8" fill="#82e1b1"/>
<rect x="466" y="553.3" width="6" height="30.7" fill="#82e1b1"/>
<rect x="474" y="556.2" width="6" height="27.8" fill="#fe7e7e"/>
<rect x="481" y="558.3" width="6" height="25.7" fill="#fe7e7e"/>
<rect x="488" y="564.2" width="6" height="19.8" fill="#82e1b1"/>
<rect x="496" y="552.3" width="6" height="31.7" fill="#fe7e7e"/>
<rect x="503" y="555.0" width="6" height="29.0" fill="#82e1b1"/>
<rect x="511" y="550.3" width="6" height="33.7" fill="#fe7e7e"/>
<rect x="518" y="557.1" width="6" height="26.9" fill="#82e1b1"/>
<rect x="525" y="552.3" width="6" height="31.7" fill="#fe7e7e"/>
<rect x="533" y="542.2" width="6" height="41.8" fill="#fe7e7e"/>
<rect x="539" y="533.2" width="6" height="50.8" fill="#fe7e7e"/>
<rect x="546" y="553.3" width="6" height="30.7" fill="#82e1b1"/>
<rect x="553" y="550.3" width="6" height="33.7" fill="#82e1b1"/>
<rect x="561" y="553.3" width="6" height="30.7" fill="#fe7e7e"/>
<rect x="568" y="552.3" width="6" height="31.7" fill="#82e1b1"/>
<rect x="576" y="560.0" width="6" height="24.0" fill="#fe7e7e"/>
<rect x="584" y="552.3" width="6" height="31.7" fill="#fe7e7e"/>
<rect x="590" y="556.6" width="6" height="27.4" fill="#82e1b1"/>
<rect x="598" y="553.3" width="6" height="30.7" fill="#82e1b1"/>
<rect x="606" y="558.3" width="6" height="25.7" fill="#fe7e7e"/>
<rect x="613" y="552.3" width="6" height="31.7" fill="#82e1b1"/>
<rect x="620" y="554.2" width="6" height="29.8" fill="#82e1b1"/>
<rect x="627" y="541.2" width="6" height="42.8" fill="#fe7e7e"/>
<rect x="634" y="562.5" width="6" height="21.5" fill="#82e1b1"/>
<rect x="641" y="561.3" width="6" height="22.7" fill="#fe7e7e"/>
<rect x="649" y="561.3" width="6" height="22.7" fill="#82e1b1"/>
<rect x="656" y="563.4" width="6" height="20.6" fill="#82e1b1"/>
<rect x="663" y="565.2" width="6" height="18.8" fill="#fe7e7e"/>
<rect x="671" y="563.4" width="6" height="20.6" fill="#fe7e7e"/>
<rect x="678" y="559.3" width="6" height="24.7" fill="#fe7e7e"/>
<rect x="686" y="558.3" width="6" height="25.7" fill="#82e1b1"/>
<rect x="693" y="561.3" width="6" height="22.7" fill="#82e1b1"/>
<rect x="700" y="560.1" width="6" height="23.9" fill="#fe7e7e"/>
<rect x="707" y="560.1" width="6" height="23.9" fill="#fe7e7e"/>
<rect x="714" y="555.0" width="6" height="29.0" fill="#82e1b1"/>
<rect x="721" y="554.2" width="6" height="29.8" fill="#fe7e7e"/>
<rect x="728" y="553.3" width="6" height="30.7" fill="#82e1b1"/>
<rect x="735" y="563.4" width="6" height="20.6" fill="#fe7e7e"/>
<rect x="743" y="564.4" width="6" height="19.6" fill="#82e1b1"/>
<rect x="751" y="566.1" width="6" height="17.9" fill="#82e1b1"/>
<rect x="758" y="565.2" width="6" height="18.8" fill="#82e1b1"/>
<rect x="765" y="564.4" width="6" height="19.6" fill="#fe7e7e"/>
<rect x="773" y="562.3" width="6" height="21.7" fill="#fe7e7e"/>
<rect x="780" y="567.4" width="6" height="16.6" fill="#fe7e7e"/>
<rect x="787" y="564.3" width="6" height="19.7" fill="#82e1b1"/>
<rect x="794" y="561.2" width="6" height="22.8" fill="#82e1b1"/>
<rect x="801" y="558.3" width="6" height="25.7" fill="#fe7e7e"/>
<rect x="809" y="555.4" width="6" height="28.6" fill="#82e1b1"/>
<rect x="815" y="561.2" width="6" height="22.8" fill="#82e1b1"/>
<rect x="822" y="565.3" width="6" height="18.7" fill="#fe7e7e"/>
<rect x="830" y="563.3" width="6" height="20.7" fill="#82e1b1"/>
<rect x="837" y="568.3" width="6" height="15.7" fill="#82e1b1"/>
<rect x="845" y="566.5" width="6" height="17.5" fill="#82e1b1"/>
<rect x="852" y="565.3" width="6" height="18.7" fill="#82e1b1"/>
<rect x="860" y="568.3" width="6" height="15.7" fill="#82e1b1"/>
<line x1="35.8" y1="512.3" x2="35.8" y2="559.8" stroke="#3a9a3c" stroke-width="1" opacity="0.85"/>
<rect x="34" y="518.9" width="3.5" height="34.7" fill="#3a9a3c" opacity="0.85"/>
<line x1="41.0" y1="512.3" x2="41.0" y2="559.8" stroke="#3a9a3c" stroke-width="1" opacity="0.85"/>
<rect x="39.1" y="518.9" width="3.7" height="34.7" fill="#3a9a3c" opacity="0.85"/>
<line x1="45.9" y1="512.3" x2="45.9" y2="536.7" stroke="#3a9a3c" stroke-width="1" opacity="0.85"/>
<rect x="44.2" y="518.9" width="3.3" height="17.8" fill="#3a9a3c" opacity="0.85"/>
<line x1="51.0" y1="512.3" x2="51.0" y2="536.7" stroke="#3a9a3c" stroke-width="1" opacity="0.85"/>
<rect x="49.2" y="518.9" width="3.5" height="17.8" fill="#3a9a3c" opacity="0.85"/>
<line x1="55.6" y1="512.3" x2="55.6" y2="559.8" stroke="#dc2440" stroke-width="1" opacity="0.85"/>
<rect x="53.9" y="518.9" width="3.5" height="34.7" fill="#dc2440" opacity="0.85"/>
<line x1="60.9" y1="512.3" x2="60.9" y2="559.8" stroke="#dc2440" stroke-width="1" opacity="0.85"/>
<rect x="59.1" y="518.9" width="3.5" height="34.7" fill="#dc2440" opacity="0.85"/>
<line x1="65.8" y1="512.3" x2="65.8" y2="559.8" stroke="#dc2440" stroke-width="1" opacity="0.85"/>
<rect x="64" y="518.9" width="3.5" height="9.6" fill="#dc2440" opacity="0.85"/>
<rect x="64" y="544" width="3.5" height="9.6" fill="#dc2440" opacity="0.85"/>
<line x1="70.8" y1="512.3" x2="70.8" y2="559.8" stroke="#dc2440" stroke-width="1" opacity="0.85"/>
<rect x="69" y="518.9" width="3.6" height="9.6" fill="#dc2440" opacity="0.85"/>
<rect x="69" y="544" width="3.6" height="9.6" fill="#dc2440" opacity="0.85"/>
<line x1="3" y1="435.5" x2="876" y2="435.5" stroke="#000" stroke-width="1" stroke-dasharray="2,1"/>
<line x1="2" y1="225.5" x2="876" y2="225.5" stroke="#26a06e" stroke-width="1" stroke-dasharray="4,5"/>
<line x1="2" y1="261.5" x2="876" y2="261.5" stroke="#26a06e" stroke-width="1" stroke-dasharray="4,5"/>
<line x1="2" y1="288.5" x2="876" y2="288.5" stroke="#26a06e" stroke-width="1" stroke-dasharray="4,5"/>
<line x1="2" y1="326.5" x2="876" y2="326.5" stroke="#26a06e" stroke-width="1" stroke-dasharray="4,5"/>
<line x1="82" y1="194.5" x2="876" y2="194.5" stroke="#26a06e" stroke-width="1"/>
<line x1="83" y1="164.5" x2="876" y2="164.5" stroke="#1010ee" stroke-width="1.2" stroke-dasharray="4,4"/>
<line x1="83" y1="166.5" x2="876" y2="166.5" stroke="#ff8c00" stroke-width="1.2" stroke-dasharray="4,2"/>
<line x1="4.5" y1="413.2" x2="4.5" y2="476.7" stroke="#f94d4d" stroke-width="1" stroke-opacity="0.85"/>
<rect x="1" y="413.2" width="6" height="36.6" fill="#f94d4d"/>
<line x1="12.5" y1="431.1" x2="12.5" y2="491.8" stroke="#f94d4d" stroke-width="1" stroke-opacity="0.85"/>
<rect x="9" y="431.1" width="6" height="34.7" fill="#f94d4d"/>
<line x1="19.5" y1="442.0" x2="19.5" y2="468.4" stroke="#f94d4d" stroke-width="1" stroke-opacity="0.85"/>
<rect x="16" y="449.1" width="6" height="9.7" fill="#f94d4d"/>
<line x1="26.5" y1="437.3" x2="26.5" y2="474.6" stroke="#f94d4d" stroke-width="1" stroke-opacity="0.85"/>
<rect x="23" y="454.0" width="6" height="1.2" fill="#f94d4d"/>
<line x1="33.5" y1="444.3" x2="33.5" y2="464.5" stroke="#26a06e" stroke-width="1" stroke-opacity="0.85"/>
<rect x="30" y="450.9" width="6" height="3.8" fill="#26a06e"/>
<line x1="41.5" y1="447.0" x2="41.5" y2="496.7" stroke="#f94d4d" stroke-width="1" stroke-opacity="0.85"/>
<rect x="38" y="453.0" width="6" height="13.9" fill="#f94d4d"/>
<line x1="48.5" y1="458.3" x2="48.5" y2="487.9" stroke="#f94d4d" stroke-width="1" stroke-opacity="0.85"/>
<rect x="45" y="460.0" width="6" height="10.8" fill="#f94d4d"/>
<line x1="55.5" y1="456.3" x2="55.5" y2="475.7" stroke="#26a06e" stroke-width="1" stroke-opacity="0.85"/>
<rect x="52" y="461.9" width="6" height="3.0" fill="#26a06e"/>
<line x1="63.5" y1="445.1" x2="63.5" y2="464.5" stroke="#26a06e" stroke-width="1" stroke-opacity="0.85"/>
<rect x="60" y="456.0" width="6" height="7.8" fill="#26a06e"/>
<line x1="70.5" y1="441.2" x2="70.5" y2="464.5" stroke="#26a06e" stroke-width="1" stroke-opacity="0.85"/>
<rect x="67" y="452.1" width="6" height="7.5" fill="#26a06e"/>
<line x1="78.5" y1="442.0" x2="78.5" y2="464.5" stroke="#26a06e" stroke-width="1" stroke-opacity="0.85"/>
<rect x="75" y="452.1" width="6" height="3.6" fill="#26a06e"/>
<line x1="85.5" y1="433.9" x2="85.5" y2="465.5" stroke="#26a06e" stroke-width="1" stroke-opacity="0.85"/>
<rect x="82" y="449.0" width="6" height="4.7" fill="#26a06e"/>
<line x1="92.5" y1="428.3" x2="92.5" y2="452.4" stroke="#26a06e" stroke-width="1" stroke-opacity="0.85"/>
<rect x="89" y="436.1" width="6" height="15.5" fill="#26a06e"/>
<line x1="100.5" y1="429.1" x2="100.5" y2="444.6" stroke="#26a06e" stroke-width="1" stroke-opacity="0.85"/>
<rect x="97" y="434.1" width="6" height="9.8" fill="#26a06e"/>
<line x1="107.5" y1="400.3" x2="107.5" y2="439.7" stroke="#26a06e" stroke-width="1" stroke-opacity="0.85"/>
<rect x="104" y="415.1" width="6" height="23.6" fill="#26a06e"/>
<line x1="114.5" y1="388.4" x2="114.5" y2="427.9" stroke="#26a06e" stroke-width="1" stroke-opacity="0.85"/>
<rect x="111" y="397.2" width="6" height="29.6" fill="#26a06e"/>
<line x1="121.5" y1="376.2" x2="121.5" y2="412.8" stroke="#26a06e" stroke-width="1" stroke-opacity="0.85"/>
<rect x="118" y="388.2" width="6" height="23.8" fill="#26a06e"/>
<line x1="128.5" y1="381.2" x2="128.5" y2="401.9" stroke="#26a06e" stroke-width="1" stroke-opacity="0.85"/>
<rect x="125" y="392.1" width="6" height="7.8" fill="#26a06e"/>
<line x1="135.5" y1="392.2" x2="135.5" y2="404.5" stroke="#f94d4d" stroke-width="1" stroke-opacity="0.85"/>
<rect x="132" y="396.1" width="6" height="2.7" fill="#f94d4d"/>
<line x1="143.5" y1="391.3" x2="143.5" y2="411.7" stroke="#f94d4d" stroke-width="1" stroke-opacity="0.85"/>
<rect x="140" y="397.2" width="6" height="3.4" fill="#f94d4d"/>
<line x1="151.5" y1="398.9" x2="151.5" y2="413.9" stroke="#f94d4d" stroke-width="1" stroke-opacity="0.85"/>
<rect x="148" y="398.9" width="6" height="6.9" fill="#f94d4d"/>
<line x1="158.5" y1="397.2" x2="158.5" y2="418.5" stroke="#f94d4d" stroke-width="1" stroke-opacity="0.85"/>
<rect x="155" y="401.9" width="6" height="2.6" fill="#f94d4d"/>
<line x1="166.5" y1="396.2" x2="166.5" y2="420.6" stroke="#f94d4d" stroke-width="1" stroke-opacity="0.85"/>
<rect x="163" y="403.6" width="6" height="1.2" fill="#f94d4d"/>
<line x1="173.5" y1="403.0" x2="173.5" y2="415.8" stroke="#f94d4d" stroke-width="1" stroke-opacity="0.85"/>
<rect x="170" y="404.9" width="6" height="5.0" fill="#f94d4d"/>
<line x1="179.5" y1="394.3" x2="179.5" y2="415.5" stroke="#26a06e" stroke-width="1" stroke-opacity="0.85"/>
<rect x="176" y="406.0" width="6" height="1.2" fill="#26a06e"/>
<line x1="187.5" y1="398.4" x2="187.5" y2="430.5" stroke="#f94d4d" stroke-width="1" stroke-opacity="0.85"/>
<rect x="184" y="407.2" width="6" height="4.7" fill="#f94d4d"/>
<line x1="194.5" y1="409.1" x2="194.5" y2="438.3" stroke="#f94d4d" stroke-width="1" stroke-opacity="0.85"/>
<rect x="191" y="409.1" width="6" height="18.3" fill="#f94d4d"/>
<line x1="200.5" y1="416.1" x2="200.5" y2="435.2" stroke="#f94d4d" stroke-width="1" stroke-opacity="0.85"/>
<rect x="197" y="419.2" width="6" height="5.6" fill="#f94d4d"/>
<line x1="207.5" y1="406.1" x2="207.5" y2="436.3" stroke="#f94d4d" stroke-width="1" stroke-opacity="0.85"/>
<rect x="204" y="421.8" width="6" height="1.2" fill="#f94d4d"/>
<line x1="215.5" y1="416.1" x2="215.5" y2="432.6" stroke="#f94d4d" stroke-width="1" stroke-opacity="0.85"/>
<rect x="212" y="422.0" width="6" height="4.7" fill="#f94d4d"/>
<line x1="222.5" y1="417.0" x2="222.5" y2="434.7" stroke="#f94d4d" stroke-width="1" stroke-opacity="0.85"/>
<rect x="219" y="424.9" width="6" height="1.2" fill="#f94d4d"/>
<line x1="230.5" y1="419.2" x2="230.5" y2="438.8" stroke="#f94d4d" stroke-width="1" stroke-opacity="0.85"/>
<rect x="227" y="425.1" width="6" height="2.3" fill="#f94d4d"/>
<line x1="237.5" y1="427.1" x2="237.5" y2="445.3" stroke="#f94d4d" stroke-width="1" stroke-opacity="0.85"/>
<rect x="234" y="427.1" width="6" height="8.6" fill="#f94d4d"/>
<line x1="245.5" y1="431.1" x2="245.5" y2="462.6" stroke="#f94d4d" stroke-width="1" stroke-opacity="0.85"/>
<rect x="242" y="431.1" width="6" height="14.5" fill="#f94d4d"/>
<line x1="252.5" y1="439.2" x2="252.5" y2="455.7" stroke="#f94d4d" stroke-width="1" stroke-opacity="0.85"/>
<rect x="249" y="439.2" width="6" height="9.5" fill="#f94d4d"/>
<line x1="259.5" y1="440.1" x2="259.5" y2="473.4" stroke="#f94d4d" stroke-width="1" stroke-opacity="0.85"/>
<rect x="256" y="444.0" width="6" height="10.7" fill="#f94d4d"/>
<line x1="266.5" y1="442.0" x2="266.5" y2="471.5" stroke="#f94d4d" stroke-width="1" stroke-opacity="0.85"/>
<rect x="263" y="449.1" width="6" height="7.7" fill="#f94d4d"/>
<line x1="274.5" y1="439.3" x2="274.5" y2="455.2" stroke="#26a06e" stroke-width="1" stroke-opacity="0.85"/>
<rect x="271" y="445.4" width="6" height="7.2" fill="#26a06e"/>
<line x1="280.5" y1="431.1" x2="280.5" y2="449.5" stroke="#26a06e" stroke-width="1" stroke-opacity="0.85"/>
<rect x="277" y="439.2" width="6" height="9.5" fill="#26a06e"/>
<line x1="288.5" y1="430.0" x2="288.5" y2="444.8" stroke="#26a06e" stroke-width="1" stroke-opacity="0.85"/>
<rect x="285" y="435.1" width="6" height="8.8" fill="#26a06e"/>
<line x1="294.5" y1="431.1" x2="294.5" y2="450.5" stroke="#f94d4d" stroke-width="1" stroke-opacity="0.85"/>
<rect x="291" y="438.8" width="6" height="1.2" fill="#f94d4d"/>
<line x1="302.5" y1="438.1" x2="302.5" y2="452.6" stroke="#f94d4d" stroke-width="1" stroke-opacity="0.85"/>
<rect x="299" y="440.1" width="6" height="5.3" fill="#f94d4d"/>
<line x1="309.5" y1="433.4" x2="309.5" y2="451.3" stroke="#f94d4d" stroke-width="1" stroke-opacity="0.85"/>
<rect x="306" y="442.7" width="6" height="1.2" fill="#f94d4d"/>
<line x1="317.5" y1="443.2" x2="317.5" y2="469.7" stroke="#f94d4d" stroke-width="1" stroke-opacity="0.85"/>
<rect x="314" y="443.2" width="6" height="12.3" fill="#f94d4d"/>
<line x1="324.5" y1="441.2" x2="324.5" y2="457.5" stroke="#26a06e" stroke-width="1" stroke-opacity="0.85"/>
<rect x="321" y="448.0" width="6" height="1.2" fill="#26a06e"/>
<line x1="332.5" y1="433.1" x2="332.5" y2="454.4" stroke="#26a06e" stroke-width="1" stroke-opacity="0.85"/>
<rect x="329" y="442.0" width="6" height="6.5" fill="#26a06e"/>
<line x1="339.5" y1="433.1" x2="339.5" y2="445.9" stroke="#26a06e" stroke-width="1" stroke-opacity="0.85"/>
<rect x="336" y="439.2" width="6" height="5.6" fill="#26a06e"/>
<line x1="346.5" y1="426.1" x2="346.5" y2="445.4" stroke="#26a06e" stroke-width="1" stroke-opacity="0.85"/>
<rect x="343" y="435.5" width="6" height="6.2" fill="#26a06e"/>
<line x1="353.5" y1="426.1" x2="353.5" y2="438.1" stroke="#26a06e" stroke-width="1" stroke-opacity="0.85"/>
<rect x="350" y="432.2" width="6" height="5.4" fill="#26a06e"/>
<line x1="360.5" y1="413.2" x2="360.5" y2="463.5" stroke="#f94d4d" stroke-width="1" stroke-opacity="0.85"/>
<rect x="357" y="435.3" width="6" height="6.4" fill="#f94d4d"/>
<line x1="367.5" y1="438.9" x2="367.5" y2="555.5" stroke="#f94d4d" stroke-width="1" stroke-opacity="0.85"/>
<rect x="364" y="438.9" width="6" height="55.7" fill="#f94d4d"/>
<line x1="375.5" y1="467.1" x2="375.5" y2="535.9" stroke="#f94d4d" stroke-width="1" stroke-opacity="0.85"/>
<rect x="372" y="467.1" width="6" height="54.5" fill="#f94d4d"/>
<line x1="381.5" y1="495.1" x2="381.5" y2="535.9" stroke="#f94d4d" stroke-width="1" stroke-opacity="0.85"/>
<rect x="378" y="495.1" width="6" height="24.4" fill="#f94d4d"/>
<line x1="389.5" y1="483.3" x2="389.5" y2="514.4" stroke="#26a06e" stroke-width="1" stroke-opacity="0.85"/>
<rect x="386" y="503.2" width="6" height="3.6" fill="#26a06e"/>
<line x1="396.5" y1="494.2" x2="396.5" y2="520.3" stroke="#f94d4d" stroke-width="1" stroke-opacity="0.85"/>
<rect x="393" y="505.1" width="6" height="4.6" fill="#f94d4d"/>
<line x1="404.5" y1="505.1" x2="404.5" y2="523.4" stroke="#f94d4d" stroke-width="1" stroke-opacity="0.85"/>
<rect x="401" y="508.2" width="6" height="7.5" fill="#f94d4d"/>
<line x1="411.5" y1="510.2" x2="411.5" y2="531.5" stroke="#f94d4d" stroke-width="1" stroke-opacity="0.85"/>
<rect x="408" y="512.2" width="6" height="7.7" fill="#f94d4d"/>
<line x1="419.5" y1="514.9" x2="419.5" y2="538.7" stroke="#f94d4d" stroke-width="1" stroke-opacity="0.85"/>
<rect x="416" y="516.1" width="6" height="10.8" fill="#f94d4d"/>
<line x1="426.5" y1="476.3" x2="426.5" y2="536.6" stroke="#26a06e" stroke-width="1" stroke-opacity="0.85"/>
<rect x="423" y="506.0" width="6" height="15.9" fill="#26a06e"/>
<line x1="434.5" y1="472.4" x2="434.5" y2="514.4" stroke="#26a06e" stroke-width="1" stroke-opacity="0.85"/>
<rect x="431" y="481.1" width="6" height="32.7" fill="#26a06e"/>
<line x1="440.5" y1="468.5" x2="440.5" y2="497.3" stroke="#26a06e" stroke-width="1" stroke-opacity="0.85"/>
<rect x="437" y="482.2" width="6" height="14.3" fill="#26a06e"/>
<line x1="448.5" y1="470.2" x2="448.5" y2="490.3" stroke="#26a06e" stroke-width="1" stroke-opacity="0.85"/>
<rect x="445" y="481.1" width="6" height="7.3" fill="#26a06e"/>
<line x1="455.5" y1="458.1" x2="455.5" y2="485.6" stroke="#26a06e" stroke-width="1" stroke-opacity="0.85"/>
<rect x="452" y="467.1" width="6" height="17.8" fill="#26a06e"/>
<line x1="462.5" y1="453.1" x2="462.5" y2="476.8" stroke="#26a06e" stroke-width="1" stroke-opacity="0.85"/>
<rect x="459" y="460.1" width="6" height="15.6" fill="#26a06e"/>
<line x1="469.5" y1="441.3" x2="469.5" y2="468.7" stroke="#26a06e" stroke-width="1" stroke-opacity="0.85"/>
<rect x="466" y="449.1" width="6" height="18.6" fill="#26a06e"/>
<line x1="477.5" y1="439.1" x2="477.5" y2="458.6" stroke="#26a06e" stroke-width="1" stroke-opacity="0.85"/>
<rect x="474" y="449.1" width="6" height="8.7" fill="#26a06e"/>
<line x1="484.5" y1="450.3" x2="484.5" y2="474.7" stroke="#f94d4d" stroke-width="1" stroke-opacity="0.85"/>
<rect x="481" y="454.2" width="6" height="4.4" fill="#f94d4d"/>
<line x1="491.5" y1="449.1" x2="491.5" y2="458.9" stroke="#26a06e" stroke-width="1" stroke-opacity="0.85"/>
<rect x="488" y="455.0" width="6" height="1.2" fill="#26a06e"/>
<line x1="499.5" y1="447.2" x2="499.5" y2="464.8" stroke="#26a06e" stroke-width="1" stroke-opacity="0.85"/>
<rect x="496" y="455.0" width="6" height="1.2" fill="#26a06e"/>
<line x1="506.5" y1="447.2" x2="506.5" y2="461.7" stroke="#26a06e" stroke-width="1" stroke-opacity="0.85"/>
<rect x="503" y="453.7" width="6" height="1.2" fill="#26a06e"/>
<line x1="514.5" y1="443.3" x2="514.5" y2="474.7" stroke="#f94d4d" stroke-width="1" stroke-opacity="0.85"/>
<rect x="511" y="454.2" width="6" height="4.7" fill="#f94d4d"/>
<line x1="521.5" y1="456.9" x2="521.5" y2="480.7" stroke="#f94d4d" stroke-width="1" stroke-opacity="0.85"/>
<rect x="518" y="456.9" width="6" height="9.8" fill="#f94d4d"/>
<line x1="528.5" y1="454.1" x2="528.5" y2="470.6" stroke="#26a06e" stroke-width="1" stroke-opacity="0.85"/>
<rect x="525" y="460.7" width="6" height="1.2" fill="#26a06e"/>
<line x1="536.5" y1="452.2" x2="536.5" y2="481.3" stroke="#f94d4d" stroke-width="1" stroke-opacity="0.85"/>
<rect x="533" y="461.2" width="6" height="3.5" fill="#f94d4d"/>
<line x1="542.5" y1="462.3" x2="542.5" y2="506.6" stroke="#f94d4d" stroke-width="1" stroke-opacity="0.85"/>
<rect x="539" y="463.1" width="6" height="12.4" fill="#f94d4d"/>
<line x1="549.5" y1="453.3" x2="549.5" y2="471.3" stroke="#26a06e" stroke-width="1" stroke-opacity="0.85"/>
<rect x="546" y="463.1" width="6" height="5.4" fill="#26a06e"/>
<line x1="556.5" y1="449.1" x2="556.5" y2="478.7" stroke="#26a06e" stroke-width="1" stroke-opacity="0.85"/>
<rect x="553" y="462.0" width="6" height="3.7" fill="#26a06e"/>
<line x1="564.5" y1="452.2" x2="564.5" y2="483.8" stroke="#f94d4d" stroke-width="1" stroke-opacity="0.85"/>
<rect x="561" y="464.2" width="6" height="2.5" fill="#f94d4d"/>
<line x1="571.5" y1="465.1" x2="571.5" y2="490.6" stroke="#f94d4d" stroke-width="1" stroke-opacity="0.85"/>
<rect x="568" y="465.1" width="6" height="15.6" fill="#f94d4d"/>
<line x1="579.5" y1="464.2" x2="579.5" y2="487.7" stroke="#f94d4d" stroke-width="1" stroke-opacity="0.85"/>
<rect x="576" y="473.2" width="6" height="5.5" fill="#f94d4d"/>
<line x1="587.5" y1="476.0" x2="587.5" y2="508.7" stroke="#f94d4d" stroke-width="1" stroke-opacity="0.85"/>
<rect x="584" y="476.0" width="6" height="16.7" fill="#f94d4d"/>
<line x1="593.5" y1="484.1" x2="593.5" y2="509.8" stroke="#f94d4d" stroke-width="1" stroke-opacity="0.85"/>
<rect x="590" y="484.9" width="6" height="9.8" fill="#f94d4d"/>
<line x1="601.5" y1="468.2" x2="601.5" y2="490.6" stroke="#26a06e" stroke-width="1" stroke-opacity="0.85"/>
<rect x="598" y="477.1" width="6" height="12.4" fill="#26a06e"/>
<line x1="609.5" y1="467.2" x2="609.5" y2="484.8" stroke="#26a06e" stroke-width="1" stroke-opacity="0.85"/>
<rect x="606" y="472.8" width="6" height="11.2" fill="#26a06e"/>
<line x1="616.5" y1="446.2" x2="616.5" y2="478.5" stroke="#26a06e" stroke-width="1" stroke-opacity="0.85"/>
<rect x="613" y="459.9" width="6" height="17.9" fill="#26a06e"/>
<line x1="623.5" y1="433.9" x2="623.5" y2="469.7" stroke="#26a06e" stroke-width="1" stroke-opacity="0.85"/>
<rect x="620" y="440.9" width="6" height="27.8" fill="#26a06e"/>
<line x1="630.5" y1="432.2" x2="630.5" y2="466.6" stroke="#26a06e" stroke-width="1" stroke-opacity="0.85"/>
<rect x="627" y="443.1" width="6" height="11.6" fill="#26a06e"/>
<line x1="637.5" y1="431.1" x2="637.5" y2="449.5" stroke="#26a06e" stroke-width="1" stroke-opacity="0.85"/>
<rect x="634" y="440.0" width="6" height="9.0" fill="#26a06e"/>
<line x1="644.5" y1="438.1" x2="644.5" y2="450.5" stroke="#26a06e" stroke-width="1" stroke-opacity="0.85"/>
<rect x="641" y="444.1" width="6" height="1.2" fill="#26a06e"/>
<line x1="652.5" y1="428.3" x2="652.5" y2="445.9" stroke="#26a06e" stroke-width="1" stroke-opacity="0.85"/>
<rect x="649" y="437.0" width="6" height="6.9" fill="#26a06e"/>
<line x1="659.5" y1="424.1" x2="659.5" y2="443.5" stroke="#26a06e" stroke-width="1" stroke-opacity="0.85"/>
<rect x="656" y="431.1" width="6" height="9.6" fill="#26a06e"/>
<line x1="666.5" y1="427.2" x2="666.5" y2="443.5" stroke="#26a06e" stroke-width="1" stroke-opacity="0.85"/>
<rect x="663" y="433.1" width="6" height="2.4" fill="#26a06e"/>
<line x1="674.5" y1="427.2" x2="674.5" y2="441.7" stroke="#26a06e" stroke-width="1" stroke-opacity="0.85"/>
<line x1="681.5" y1="433.9" x2="681.5" y2="453.5" stroke="#f94d4d" stroke-width="1" stroke-opacity="0.85"/>
<rect x="678" y="433.9" width="6" height="7.9" fill="#f94d4d"/>
<line x1="689.5" y1="412.2" x2="689.5" y2="449.5" stroke="#26a06e" stroke-width="1" stroke-opacity="0.85"/>
<rect x="686" y="431.2" width="6" height="6.4" fill="#26a06e"/>
<line x1="696.5" y1="406.3" x2="696.5" y2="434.0" stroke="#26a06e" stroke-width="1" stroke-opacity="0.85"/>
<rect x="693" y="412.2" width="6" height="21.8" fill="#26a06e"/>
<line x1="703.5" y1="406.3" x2="703.5" y2="423.1" stroke="#26a06e" stroke-width="1" stroke-opacity="0.85"/>
<rect x="700" y="413.0" width="6" height="9.8" fill="#26a06e"/>
<line x1="710.5" y1="409.1" x2="710.5" y2="421.5" stroke="#26a06e" stroke-width="1" stroke-opacity="0.85"/>
<rect x="707" y="415.3" width="6" height="2.4" fill="#26a06e"/>
<line x1="717.5" y1="378.0" x2="717.5" y2="417.2" stroke="#26a06e" stroke-width="1" stroke-opacity="0.85"/>
<rect x="714" y="397.0" width="6" height="19.9" fill="#26a06e"/>
<line x1="724.5" y1="374.9" x2="724.5" y2="407.5" stroke="#26a06e" stroke-width="1" stroke-opacity="0.85"/>
<rect x="721" y="386.1" width="6" height="20.7" fill="#26a06e"/>
<line x1="731.5" y1="369.9" x2="731.5" y2="396.7" stroke="#26a06e" stroke-width="1" stroke-opacity="0.85"/>
<rect x="728" y="379.1" width="6" height="16.8" fill="#26a06e"/>
<line x1="738.5" y1="367.1" x2="738.5" y2="388.6" stroke="#26a06e" stroke-width="1" stroke-opacity="0.85"/>
<rect x="735" y="377.2" width="6" height="10.4" fill="#26a06e"/>
<line x1="746.5" y1="374.1" x2="746.5" y2="388.6" stroke="#26a06e" stroke-width="1" stroke-opacity="0.85"/>
<rect x="743" y="380.3" width="6" height="1.2" fill="#26a06e"/>
<line x1="754.5" y1="368.4" x2="754.5" y2="406.8" stroke="#26a06e" stroke-width="1" stroke-opacity="0.85"/>
<line x1="761.5" y1="349.2" x2="761.5" y2="380.8" stroke="#26a06e" stroke-width="1" stroke-opacity="0.85"/>
<rect x="758" y="363.2" width="6" height="17.6" fill="#26a06e"/>
<line x1="768.5" y1="348.1" x2="768.5" y2="372.5" stroke="#26a06e" stroke-width="1" stroke-opacity="0.85"/>
<rect x="765" y="356.2" width="6" height="15.6" fill="#26a06e"/>
<line x1="776.5" y1="353.1" x2="776.5" y2="373.3" stroke="#26a06e" stroke-width="1" stroke-opacity="0.85"/>
<rect x="773" y="362.4" width="6" height="1.3" fill="#26a06e"/>
<line x1="783.5" y1="344.1" x2="783.5" y2="372.5" stroke="#26a06e" stroke-width="1" stroke-opacity="0.85"/>
<rect x="780" y="360.9" width="6" height="1.5" fill="#26a06e"/>
<line x1="790.5" y1="334.4" x2="790.5" y2="367.4" stroke="#26a06e" stroke-width="1" stroke-opacity="0.85"/>
<rect x="787" y="350.3" width="6" height="11.3" fill="#26a06e"/>
<line x1="797.5" y1="305.2" x2="797.5" y2="356.2" stroke="#26a06e" stroke-width="1" stroke-opacity="0.85"/>
<rect x="794" y="325.1" width="6" height="30.6" fill="#26a06e"/>
<line x1="804.5" y1="299.4" x2="804.5" y2="341.4" stroke="#26a06e" stroke-width="1" stroke-opacity="0.85"/>
<rect x="801" y="310.3" width="6" height="30.4" fill="#26a06e"/>
<line x1="812.5" y1="300.2" x2="812.5" y2="363.7" stroke="#26a06e" stroke-width="1" stroke-opacity="0.85"/>
<rect x="809" y="320.1" width="6" height="4.7" fill="#26a06e"/>
<line x1="818.5" y1="270.4" x2="818.5" y2="323.5" stroke="#26a06e" stroke-width="1" stroke-opacity="0.85"/>
<rect x="815" y="289.3" width="6" height="33.5" fill="#26a06e"/>
<line x1="825.5" y1="273.2" x2="825.5" y2="306.5" stroke="#26a06e" stroke-width="1" stroke-opacity="0.85"/>
<rect x="822" y="282.2" width="6" height="23.5" fill="#26a06e"/>
<line x1="833.5" y1="263.3" x2="833.5" y2="295.0" stroke="#26a06e" stroke-width="1" stroke-opacity="0.85"/>
<rect x="830" y="276.3" width="6" height="17.9" fill="#26a06e"/>
<line x1="840.5" y1="235.5" x2="840.5" y2="286.0" stroke="#26a06e" stroke-width="1" stroke-opacity="0.85"/>
<rect x="837" y="259.9" width="6" height="25.4" fill="#26a06e"/>
<line x1="848.5" y1="233.2" x2="848.5" y2="272.5" stroke="#26a06e" stroke-width="1" stroke-opacity="0.85"/>
<rect x="845" y="245.1" width="6" height="26.8" fill="#26a06e"/>
<line x1="855.5" y1="209.3" x2="855.5" y2="259.5" stroke="#26a06e" stroke-width="1" stroke-opacity="0.85"/>
<rect x="852" y="224.1" width="6" height="34.7" fill="#26a06e"/>
<line x1="863.5" y1="194.3" x2="863.5" y2="241.5" stroke="#26a06e" stroke-width="1" stroke-opacity="0.85"/>
<rect x="860" y="210.1" width="6" height="30.7" fill="#26a06e"/>
<line x1="870.5" y1="189.0" x2="870.5" y2="225.5" stroke="#26a06e" stroke-width="1" stroke-opacity="0.85"/>
<rect x="867" y="189.0" width="6" height="36.2" fill="#26a06e"/>
<line x1="874" y1="164.0" x2="874" y2="207.0" stroke="#26a06e" stroke-width="1" stroke-opacity="0.85"/>
<rect x="870" y="168.0" width="6" height="39.0" fill="#26a06e"/>
</g>
<rect x="3" y="152.5" width="79.5" height="14.3" fill="#ff8c00"/>
<text x="4.5" y="164" font-size="11" fill="#fff">17.501</text><text x="42.5" y="164" font-size="11" fill="#fff">-0,39%</text>
<rect x="3" y="180.5" width="79.5" height="14" fill="#26a06e"/>
<text x="4.5" y="192" font-size="11" fill="#fff">16.661</text><text x="42.5" y="192" font-size="11" fill="#fff">-5,17%</text>
<rect x="4.7" y="211" width="36.8" height="14" fill="#fff"/><text x="4.5" y="223" font-size="11" fill="#222">15.724</text>
<rect x="4.7" y="247" width="36.8" height="14" fill="#fff"/><text x="4.5" y="259" font-size="11" fill="#222">14.646</text>
<rect x="4.7" y="274" width="36.8" height="14" fill="#fff"/><text x="4.5" y="286" font-size="11" fill="#222">13.855</text>
<rect x="4.7" y="312" width="36.8" height="14" fill="#fff"/><text x="4.5" y="324" font-size="11" fill="#222">12.708</text>
<text x="20" y="147" font-size="11" font-weight="bold" fill="#9fd0f7" letter-spacing="-0.35">SMA (100)</text><text x="74.6" y="147" font-size="11" font-weight="bold" fill="#dcdcdc" letter-spacing="-0.3">BOLL (20)</text>
<line x1="876.5" y1="135" x2="876.5" y2="584.5" stroke="#000" stroke-width="1"/>
<line x1="2" y1="584.5" x2="877" y2="584.5" stroke="#000" stroke-width="1"/>
<rect x="2.5" y="119.5" width="923" height="482.5" fill="none" stroke="#d8d8d8" stroke-width="1"/>
<text x="878" y="218.2" font-size="11" fill="#222" letter-spacing="-0.25">15.920,7</text>
<text x="878" y="227.9" font-size="11" fill="#f25555" letter-spacing="-0.2">-8,98%</text>
<text x="878" y="274.2" font-size="11" fill="#222" letter-spacing="-0.25">14.237,2</text>
<text x="878" y="283.9" font-size="11" fill="#f25555" letter-spacing="-0.2">-18,60%</text>
<text x="878" y="330.3" font-size="11" fill="#222" letter-spacing="-0.25">12.553,7</text>
<text x="878" y="340.0" font-size="11" fill="#f25555" letter-spacing="-0.2">-28,23%</text>
<text x="878" y="386.3" font-size="11" fill="#222" letter-spacing="-0.25">10.870,2</text>
<text x="878" y="396.0" font-size="11" fill="#f25555" letter-spacing="-0.2">-37,85%</text>
<text x="878" y="442.4" font-size="11" fill="#222" letter-spacing="-0.25">9.186,7</text>
<text x="878" y="452.1" font-size="11" fill="#f25555" letter-spacing="-0.2">-47,48%</text>
<text x="878" y="498.4" font-size="11" fill="#222" letter-spacing="-0.25">7.503,2</text>
<text x="878" y="508.1" font-size="11" fill="#f25555" letter-spacing="-0.2">-57,10%</text>
<text x="878" y="554.5" font-size="11" fill="#222" letter-spacing="-0.25">5.814,5</text>
<text x="878" y="564.2" font-size="11" fill="#f25555" letter-spacing="-0.2">-66,75%</text>
<text x="878" y="161" font-size="11" fill="#222" letter-spacing="-0.25">17.604,3</text>
<rect x="877" y="158" width="44.7" height="13.8" fill="#26a06e"/>
<clipPath id="clipp"><rect x="877" y="158" width="44.7" height="13.8"/></clipPath>
<text x="878.6" y="169.2" font-size="10.4" font-weight="bold" fill="#fff" letter-spacing="0.75" clip-path="url(#clipp)">17.570,9</text>
<text x="9" y="597.5" font-size="11.5" font-weight="bold" fill="#111" text-anchor="middle">16</text>
<text x="44.5" y="597.5" font-size="11" fill="#333" text-anchor="middle">Jul</text>
<text x="89.5" y="597.5" font-size="11.5" font-weight="bold" fill="#111" text-anchor="middle">2017</text>
<text x="132" y="597.5" font-size="11" fill="#333" text-anchor="middle">Jul</text>
<text x="177" y="597.5" font-size="11.5" font-weight="bold" fill="#111" text-anchor="middle">2018</text>
<text x="219.5" y="597.5" font-size="11" fill="#333" text-anchor="middle">Jul</text>
<text x="264" y="597.5" font-size="11.5" font-weight="bold" fill="#111" text-anchor="middle">2019</text>
<text x="306" y="597.5" font-size="11" fill="#333" text-anchor="middle">Jul</text>
<text x="350" y="597.5" font-size="11.5" font-weight="bold" fill="#111" text-anchor="middle">2020</text>
<text x="393.5" y="597.5" font-size="11" fill="#333" text-anchor="middle">Jul</text>
<text x="437" y="597.5" font-size="11.5" font-weight="bold" fill="#111" text-anchor="middle">2021</text>
<text x="480" y="597.5" font-size="11" fill="#333" text-anchor="middle">Jul</text>
<text x="524" y="597.5" font-size="11.5" font-weight="bold" fill="#111" text-anchor="middle">2022</text>
<text x="568" y="597.5" font-size="11" fill="#333" text-anchor="middle">Jul</text>
<text x="612" y="597.5" font-size="11.5" font-weight="bold" fill="#111" text-anchor="middle">2023</text>
<text x="655" y="597.5" font-size="11" fill="#333" text-anchor="middle">Jul</text>
<text x="698.7" y="597.5" font-size="11.5" font-weight="bold" fill="#111" text-anchor="middle">2024</text>
<text x="742.3" y="597.5" font-size="11" fill="#333" text-anchor="middle">Jul</text>
<text x="785.8" y="597.5" font-size="11.5" font-weight="bold" fill="#111" text-anchor="middle">2025</text>
<text x="829.4" y="597.5" font-size="11" fill="#333" text-anchor="middle">Jul</text>
<text x="874" y="597.5" font-size="11.5" font-weight="bold" fill="#111" text-anchor="middle">2026</text>
<text x="16.5" y="582.5" font-size="21.5" letter-spacing="-1.4" fill="#1a1a1a" font-weight="bold">PC</text>
<text x="44" y="582.5" font-size="20.5" letter-spacing="-1.9" fill="#333" font-weight="200" style="font-family:'DejaVu Sans',sans-serif">Bolsa</text>
<text x="4.5" y="131.6" font-size="12" font-weight="bold" fill="#222" letter-spacing="-0.42">PCBOLSA.COM - IBEX 35 Histórico Lineal 5/1/2016 - 5/1/2026 , 11:09:45 Renta: 86,33%</text>
</svg>

<!-- bottom bar -->
<div class="a" style="left:2px;top:606px;width:60px;height:31.5px;background:#d9544a;border-radius:3px"></div>
<div class="a" style="left:2px;top:614px;width:60px;text-align:center;font-size:13px;font-weight:bold;color:#fff;letter-spacing:-1.2px">CONFG.</div>
<div class="a" style="left:66.5px;top:607px;width:64.5px;height:30px;border:1px solid #c2aaaa"></div>
<div class="a" style="left:106px;top:607px;width:1px;height:30px;background:#c2aaaa"></div>
<div class="a" style="left:80.5px;top:614.5px;font-size:12.5px;font-weight:bold;color:#111;letter-spacing:0.6px">Bl</div>
<div class="car" style="left:114.5px;top:620px;border-top-color:#555;border-left-width:4px;border-right-width:4px"></div>
<div class="per" style="left:144.5px">All</div>
<div class="per" style="left:172px">10A</div>
<div class="per" style="left:208px">5A</div>
<div class="per" style="left:240px">2A</div>
<div class="per" style="left:272px">1A</div>
<div class="per" style="left:307.5px">A</div>
<div class="per" style="left:334px">6M</div>
<div class="per" style="left:363px">60D</div>
<div class="per" style="left:395px">30D</div>
<div class="per" style="left:427px">15D</div>
<div class="per" style="left:464px">5D</div>
<div class="per" style="left:496px">2D</div>
<div class="per" style="left:528px">1D</div>
<div class="sep" style="left:168px"></div>
<div class="sep" style="left:200px"></div>
<div class="sep" style="left:232px"></div>
<div class="sep" style="left:264px"></div>
<div class="sep" style="left:296px"></div>
<div class="sep" style="left:328px"></div>
<div class="sep" style="left:360px"></div>
<div class="sep" style="left:392px"></div>
<div class="sep" style="left:424px"></div>
<div class="sep" style="left:456px"></div>
<div class="sep" style="left:489px"></div>
<div class="sep" style="left:520.5px"></div>
<div class="sep" style="left:552px"></div>
<div class="a" style="left:916px;top:614.5px;font-size:16px;font-weight:bold;color:#111">0</div>
</body></html>
